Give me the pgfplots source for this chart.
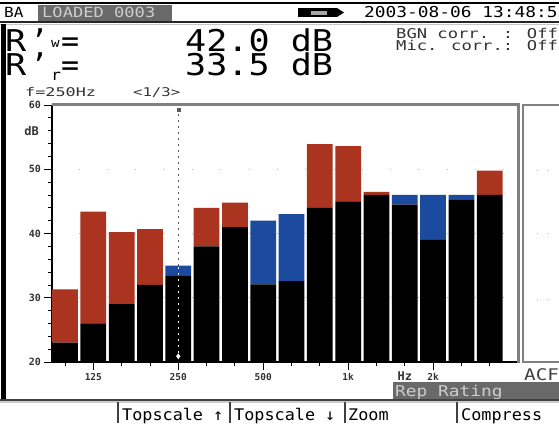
\documentclass[border=0pt]{standalone}
\usepackage{fontspec}
\setmainfont{DejaVu Sans Mono}
\usepackage{pgfplots}
\pgfplotsset{compat=1.18}
\usepackage{pgfplotstable}

\definecolor{lcdred}{RGB}{170,52,32}
\definecolor{lcdblue}{RGB}{28,74,158}
\definecolor{lcdgray}{RGB}{105,105,105}
\definecolor{lcdframe}{RGB}{128,128,128}
\definecolor{lcdlight}{RGB}{205,205,205}

% 1/3-octave bands 100 Hz ... 3150 Hz (index 0..15)
% below : lower of measured R' and shifted reference curve
% over  : measured above the reference curve
% under : reference curve above measured (unfavourable deviation)
\pgfplotstableread{
band below over under
0   23.0   8.3   0.0
1   26.0  17.4   0.0
2   29.0  11.2   0.0
3   32.0   8.7   0.0
4   33.5   0.0   1.5
5   38.0   6.0   0.0
6   41.0   3.8   0.0
7   32.1   0.0   9.9
8   32.6   0.0  10.4
9   44.0   9.9   0.0
10  45.0   8.6   0.0
11  46.0   0.5   0.0
12  44.5   0.0   1.5
13  39.0   0.0   7.0
14  45.3   0.0   0.7
15  46.0   3.8   0.0
}\bands

% screen text: size in bp, horizontal stretch, text
\newcommand\lcd[3]{{\fontsize{#1bp}{#1bp}\selectfont\scalebox{#2}[1]{#3}}}

\pgfplotsset{spectrumbox/.style={
  at={(52bp,-362bp)}, anchor=south west,
  scale only axis, width=466bp, height=257bp,
  xmin=-0.46, xmax=16.0, ymin=20, ymax=60}}

\begin{document}
\begin{tikzpicture}[x=1bp,y=-1bp]
\useasboundingbox (0,0) rectangle (559,423);
\clip (0,0) rectangle (559,423);
\fill[white] (0,0) rectangle (559,423);

% ---- status line ----
\draw[black, line width=1.5] (0,3) -- (559,3);
\node[anchor=base west, inner sep=0] at (4,17) {\lcd{14}{1.15}{BA}};
\fill[lcdgray] (38,5) rectangle (172,21);
\node[anchor=base west, inner sep=0, text=lcdlight] at (42,17) {\lcd{14}{1.22}{LOADED 0003}};
\fill[black] (298,8) rectangle (337,17);
\fill[black] (337,8) -- (344,12.5) -- (337,17) -- cycle;
\fill[gray!70] (311,10.5) rectangle (327,14.5);
\node[anchor=base west, inner sep=0] at (364,17) {\lcd{15}{1.19}{2003-08-06 13:48:55}};
\draw[black!85, line width=2] (0,22) -- (559,22);
\draw[gray!45, line width=1.5] (0,24.5) -- (559,24.5);
\fill[black] (1,24) rectangle (6,400);

% ---- single-number ratings ----
\node[anchor=base west, inner sep=0] at (5,51) {\lcd{30}{1.17}{R}};
\node[anchor=base west, inner sep=0] at (30,51) {\lcd{30}{1}{'}};
\node[anchor=base west, inner sep=0] at (51,47) {\lcd{13}{1.1}{w}};
\node[anchor=base west, inner sep=0] at (61,51) {\lcd{30}{1}{=}};
\node[anchor=base west, inner sep=0] at (185,51) {\lcd{30}{1.17}{42.0 dB}};
\node[anchor=base west, inner sep=0] at (5,75) {\lcd{30}{1.17}{R}};
\node[anchor=base west, inner sep=0] at (30,75) {\lcd{30}{1}{'}};
\node[anchor=base west, inner sep=0] at (51,80) {\lcd{15}{1.1}{r}};
\node[anchor=base west, inner sep=0] at (61,75) {\lcd{30}{1}{=}};
\node[anchor=base west, inner sep=0] at (185,75) {\lcd{30}{1.17}{33.5 dB}};
\node[anchor=base west, inner sep=0, text=black!80] at (396,38) {\lcd{13.5}{1.27}{BGN corr. : Off}};
\node[anchor=base west, inner sep=0, text=black!80] at (396,50) {\lcd{13.5}{1.27}{Mic. corr.: Off}};
\node[anchor=base west, inner sep=0, text=black!80] at (25,96) {\lcd{12}{1.4}{f=250Hz}};
\node[anchor=base west, inner sep=0, text=black!80] at (133,96) {\lcd{12}{1.3}{<1/3>}};

% ---- spectrum ----
\begin{axis}[
  spectrumbox,
  axis x line*=bottom, axis y line*=left,
  axis line style={black, line width=1.2bp},
  ybar stacked, bar width=0.91,
  tick align=outside,
  major tick length=8bp, minor tick length=4bp,
  tick style={black, line width=0.8bp},
  ytick={20,30,40,50,60}, minor y tick num=4,
  xtick={1,4,7,10,13}, xticklabels={125,250,500,1k,2k},
  minor xtick={0,...,15},
  extra y ticks={56}, extra y tick labels={dB},
  extra y tick style={grid=none, tick style={draw=none},
    yticklabel style={font=\fontsize{12bp}{12bp}\selectfont\bfseries, xshift=-2bp}},
  extra x ticks={12}, extra x tick labels={Hz},
  extra x tick style={tick style={draw=none},
    xticklabel style={font=\fontsize{12bp}{12bp}\selectfont\bfseries, yshift=1bp}},
  /pgf/number format/assume math mode=true,
  yticklabel style={font=\fontsize{10bp}{10bp}\selectfont\bfseries, text=black!80,
    anchor=east, inner sep=0pt, xshift=-3bp},
  xticklabel style={font=\fontsize{9.5bp}{9.5bp}\selectfont\bfseries, text=black!80,
    anchor=north, inner sep=0pt, yshift=-3bp},
  ymajorgrids,
  major grid style={gray!55, line width=1bp, dash pattern=on 1bp off 27.31bp, dash phase=1.6bp},
]
\addplot[fill=black, draw=none] table[x=band, y=below] {\bands};
\addplot[fill=lcdred, draw=none] table[x=band, y=over] {\bands};
\addplot[fill=lcdblue, draw=none] table[x=band, y=under] {\bands};
\end{axis}

% frequency cursor at 250 Hz
\begin{axis}[spectrumbox, hide axis]
\addplot[gray!70!black, line width=1.3bp, dash pattern=on 1.5bp off 4.5bp]
  coordinates {(4,35) (4,60)};
\addplot[white, line width=1.3bp, dash pattern=on 1.5bp off 4.5bp]
  coordinates {(4,20.5) (4,35)};
\addplot[only marks, mark=diamond*, mark size=2.5bp, white] coordinates {(4,20.9)};
\addplot[only marks, mark=square*, mark size=1.5bp, gray!70!black] coordinates {(4,59.2)};
\end{axis}

% ---- frames ----
\draw[lcdframe, line width=2.5] (52,104.5) -- (520,104.5);
\draw[lcdframe, line width=3] (518.5,103.5) -- (518.5,363);
\draw[lcdframe, line width=1.5] (565,105) -- (523,105) -- (523,362) -- (565,362);
\foreach \yy in {170.5,233,299} {
  \fill[gray!60] (536.5,\yy-0.5) rectangle (537.5,\yy+0.5);
  \fill[gray!60] (547.5,\yy-0.5) rectangle (548.5,\yy+0.5);
}
\node[anchor=base west, inner sep=0, text=black!75] at (524,380) {\lcd{16}{1.2}{ACF}};

% ---- soft keys ----
\fill[lcdgray] (393,382) rectangle (559,399);
\node[anchor=base west, inner sep=0, text=lcdlight] at (395,396) {\lcd{15}{1.19}{Rep Rating}};
\draw[black!75, line width=2] (0,399.5) -- (559,399.5);
\draw[gray!40, line width=1.5] (0,402) -- (559,402);
\foreach \xx in {118,230,345,457} \draw[black!75, line width=2] (\xx,402) -- (\xx,423);
\node[anchor=base west, inner sep=0] at (122,420) {\lcd{16}{1.05}{Topscale ↑}};
\node[anchor=base west, inner sep=0] at (234,420) {\lcd{16}{1.05}{Topscale ↓}};
\node[anchor=base west, inner sep=0] at (348,420) {\lcd{16}{1.05}{Zoom}};
\node[anchor=base west, inner sep=0] at (461,420) {\lcd{16}{1.05}{Compress}};
\end{tikzpicture}
\end{document}
